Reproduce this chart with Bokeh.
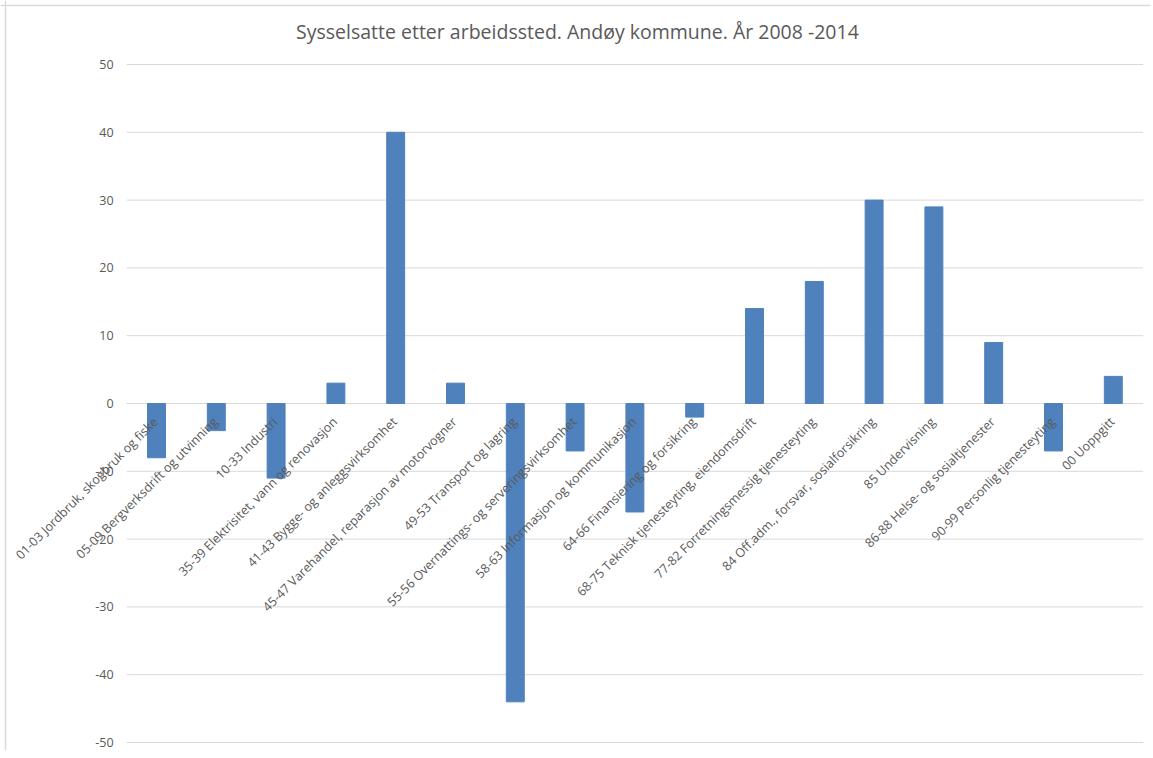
import math
from bokeh.plotting import figure
from bokeh.models import Range1d, Span
from bokeh.core.properties import value
from bokeh.embed import file_html
from bokeh.resources import INLINE

categories = [
    "01-03 Jordbruk, skogbruk og fiske",
    "05-09 Bergverksdrift og utvinning",
    "10-33 Industri",
    "35-39 Elektrisitet, vann og renovasjon",
    "41-43 Bygge- og anleggsvirksomhet",
    "45-47 Varehandel, reparasjon av motorvogner",
    "49-53 Transport og lagring",
    "55-56 Overnattings- og serveringsvirksomhet",
    "58-63 Informasjon og kommunikasjon",
    "64-66 Finansiering og forsikring",
    "68-75 Teknisk tjenesteyting, eiendomsdrift",
    "77-82 Forretningsmessig tjenesteyting",
    "84 Off.adm., forsvar, sosialforsikring",
    "85 Undervisning",
    "86-88 Helse- og sosialtjenester",
    "90-99 Personlig tjenesteyting",
    "00 Uoppgitt",
]
values = [-8, -4, -11, 3, 40, 3, -44, -7, -16, -2, 14, 18, 30, 29, 9, -7, 4]
y_ticks = [-50, -40, -30, -20, -10, 0, 10, 20, 30, 40, 50]
y_tick_labels = ["-50", "-40", "-30", "-20", "-10", "0", "10", "20", "30", "40", "50"]
title_text = "Sysselsatte etter arbeidssted.  Andøy kommune.  År 2008 -2014"

FONT = "Open Sans"
GREY = "#595959"
GRID = "#D9D9D9"

# layout: pixel geometry of the plot area inside the canvas
W, H = 1150, 750
PX_LEFT, PX_CAT = 126.1, 59.8          # left edge of plot area, width per category
PX_TOP, PX_BOTTOM = 64.0, 742.0        # pixel rows of y = 50 and y = -50
y_top, y_bot = max(y_ticks), min(y_ticks)
ppu = (PX_BOTTOM - PX_TOP) / (y_top - y_bot)
n = len(categories)

x_range = Range1d(-PX_LEFT / PX_CAT, (W - PX_LEFT) / PX_CAT)
y_range = Range1d(y_bot - (H - PX_BOTTOM) / ppu, y_top + PX_TOP / ppu)

p = figure(width=W, height=H, x_range=x_range, y_range=y_range,
           output_backend="svg", toolbar_location=None, min_border=0)
p.axis.visible = False
p.grid.grid_line_color = None
p.outline_line_color = None

xs = [i + 0.5 for i in range(n)]

# gridlines
p.segment(x0=[0] * len(y_ticks), x1=[n] * len(y_ticks), y0=y_ticks, y1=y_ticks,
          line_color=GRID, line_width=1)

# bars
p.vbar(x=xs, top=values, bottom=0, width=0.3,
       fill_color="#4F81BD", line_color="#4F81BD")

# y tick labels
p.text(x=[0] * len(y_ticks), y=y_ticks, text=y_tick_labels,
       text_align="right", text_baseline="middle", x_offset=-13,
       text_font=value(FONT), text_font_size="12.5px", text_color=GREY)

# category labels, Excel-style at the zero line
p.text(x=xs, y=[0] * n, text=categories,
       angle=math.pi / 4, text_align="right", text_baseline="middle",
       x_offset=-1, y_offset=16,
       text_font=value(FONT), text_font_size="12.5px", text_color=GREY)

# title
p.text(x=[(582 - PX_LEFT) / PX_CAT], y=[y_top], text=[title_text],
       text_align="center", text_baseline="middle", y_offset=-33,
       text_font=value(FONT), text_font_size="19.5px", text_color=GREY)

# chart border (top and left)
p.add_layout(Span(location=y_top + (PX_TOP - 5) / ppu, dimension="width",
                  line_color=GRID, line_width=1.5))
p.add_layout(Span(location=-(PX_LEFT - 5) / PX_CAT, dimension="height",
                  line_color=GRID, line_width=1.5))

open("out.html", "w").write(file_html(p, INLINE))
